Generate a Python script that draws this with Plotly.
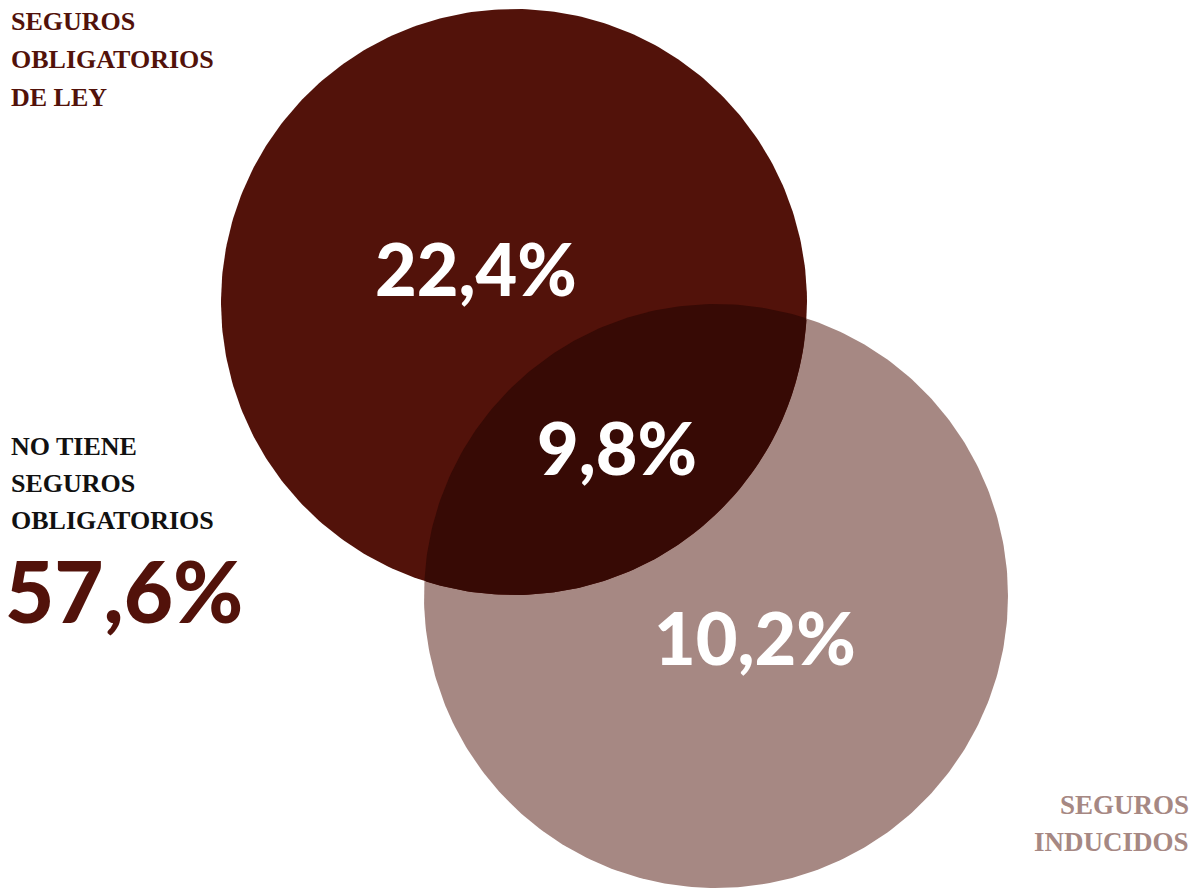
import numpy as np
import plotly.graph_objects as go

# ---- data ----
set_labels = ["SEGUROS OBLIGATORIOS DE LEY", "SEGUROS INDUCIDOS"]
only_a = "22,4%"
both = "9,8%"
only_b = "10,2%"
none_label = ["NO TIENE", "SEGUROS", "OBLIGATORIOS"]
none_value = "57,6%"

# ---- geometry (pixel space) ----
W, H = 1197, 889
c1 = (514, 302, 293)
c2 = (716, 596, 292)
DARK = "#52120a"
LIGHT = "#a68883"
OVER = "#370a05"

fig = go.Figure()

def circle_xy(cx, cy, r, n=400):
    t = np.linspace(0, 2 * np.pi, n)
    return cx + r * np.cos(t), cy + r * np.sin(t)

x1, y1 = circle_xy(*c1)
x2, y2 = circle_xy(*c2)
fig.add_trace(go.Scatter(x=x2, y=y2, fill="toself", fillcolor=LIGHT, mode="lines",
                         line=dict(width=0), hoverinfo="skip"))
fig.add_trace(go.Scatter(x=x1, y=y1, fill="toself", fillcolor=DARK, mode="lines",
                         line=dict(width=0), hoverinfo="skip"))
# lens: arc of c1 inside c2 + arc of c2 inside c1
in2 = (x1 - c2[0]) ** 2 + (y1 - c2[1]) ** 2 <= c2[2] ** 2
in1 = (x2 - c1[0]) ** 2 + (y2 - c1[1]) ** 2 <= c1[2] ** 2
def ordered(xs, ys, mask):
    idx = np.where(mask)[0]
    if len(idx) and idx[0] == 0 and idx[-1] == len(mask) - 1:
        br = np.where(np.diff(idx) > 1)[0]
        if len(br):
            k = br[0] + 1
            idx = np.concatenate([idx[k:], idx[:k]])
    return xs[idx], ys[idx]
ax_, ay_ = ordered(x1, y1, in2)
bx_, by_ = ordered(x2, y2, in1)
fig.add_trace(go.Scatter(x=np.concatenate([ax_, bx_]), y=np.concatenate([ay_, by_]),
                         fill="toself", fillcolor=OVER, mode="lines",
                         line=dict(width=0), hoverinfo="skip"))

LBL = "Liberation Serif"
NUM = "Lato"

def ann(x, y, text, size, color, font, anchor="left", weight="bold"):
    fig.add_annotation(x=x, y=y, xref="x", yref="y", text=text, showarrow=False,
                       xanchor=anchor, yanchor="middle",
                       font=dict(family=font, size=size, color=color, weight=weight))

top_lines = ["SEGUROS", "OBLIGATORIOS", "DE LEY"]
for i, t in enumerate(top_lines):
    ann(9, 21 + i * 38, t, 26, DARK, LBL)
for i, t in enumerate(none_label):
    ann(9, 446 + i * 37, t, 26, "#111111", LBL)
ann(3, 590, none_value, 85, DARK, NUM, weight=900)
for i, t in enumerate(["SEGUROS", "INDUCIDOS"]):
    ann(1191, 805 + i * 37, t, 27, LIGHT, LBL, anchor="right")

ann(476, 268, only_a, 72, "white", NUM, anchor="center", weight=900)
ann(617, 447, both, 72, "white", NUM, anchor="center", weight=900)
ann(755, 637, only_b, 72, "white", NUM, anchor="center", weight=900)

fig.update_layout(width=W, height=H, margin=dict(l=0, r=0, t=0, b=0),
                  paper_bgcolor="white", plot_bgcolor="white", showlegend=False,
                  xaxis=dict(range=[0, W], visible=False, fixedrange=True),
                  yaxis=dict(range=[H, 0], visible=False, fixedrange=True))
fig.write_html("out.html", config={"displayModeBar": False})
